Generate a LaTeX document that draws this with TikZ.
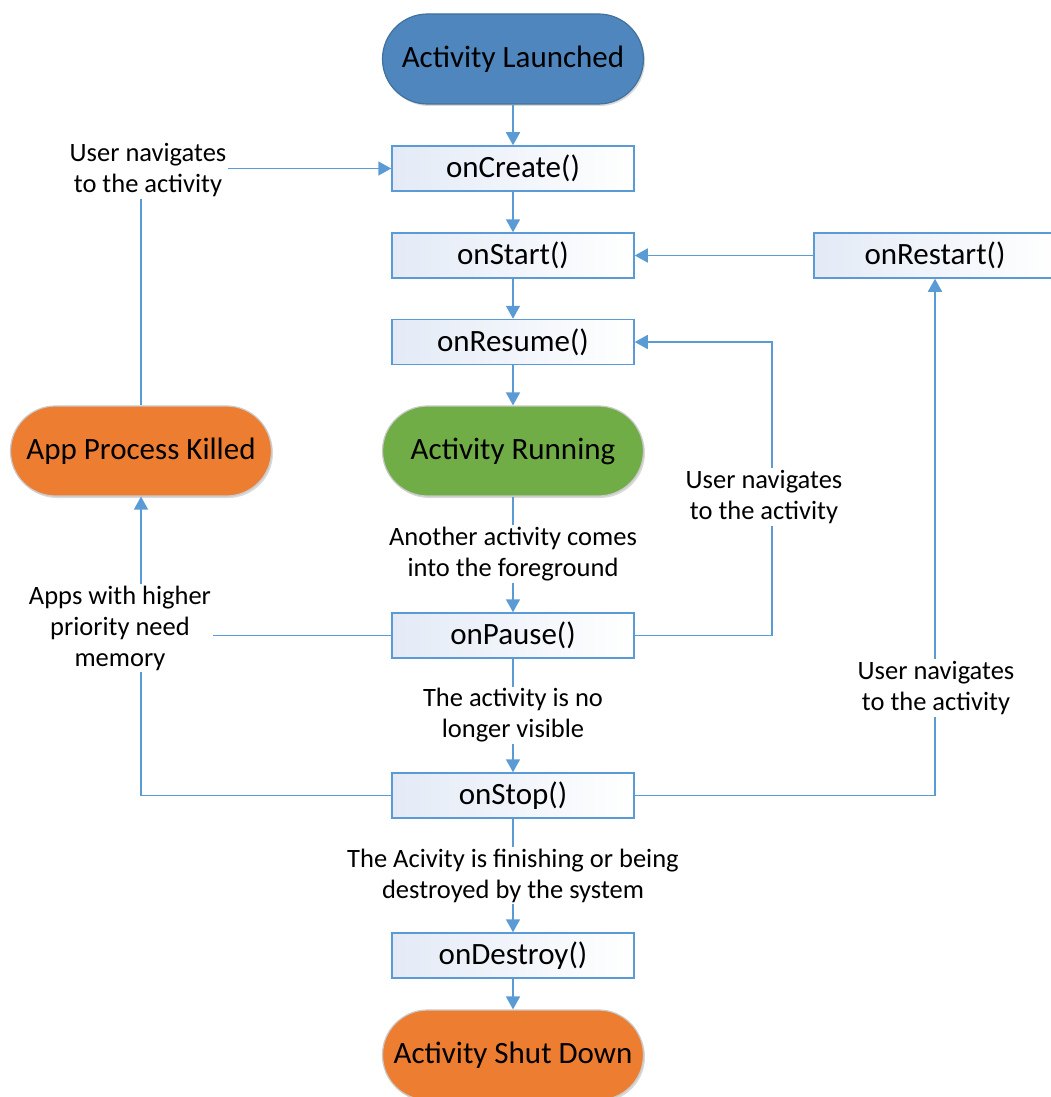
\documentclass[tikz,border=0pt]{standalone}
\usepackage{fontspec}
\setmainfont{Carlito}
\usetikzlibrary{arrows.meta,shadows}

\definecolor{lineblue}{HTML}{5B9BD5}
\definecolor{launchblue}{HTML}{4F86BE}
\definecolor{launchedge}{HTML}{41719C}
\definecolor{rungreen}{HTML}{70AD47}
\definecolor{stoporange}{HTML}{ED7D31}
\definecolor{paleblue}{HTML}{E3EAF6}
\definecolor{softedge}{HTML}{C9C9C9}

\begin{document}
\begin{tikzpicture}[x=1pt,y=-1pt,
  flow/.style={draw=lineblue, line width=1.6pt, -{Triangle[width=14pt,length=13pt]}},
  plain/.style={draw=lineblue, line width=1.6pt},
  method/.style={draw=lineblue, line width=1.5pt, left color=paleblue, right color=white,
    minimum width=242pt, minimum height=45pt, inner sep=0pt,
    font=\fontsize{31}{36}\selectfont},
  terminal/.style={rounded corners=45pt, minimum width=261pt, minimum height=90pt,
    inner sep=0pt, line width=1.2pt, font=\fontsize{31}{36}\selectfont,
    general shadow={fill=black, opacity=0.15, shadow xshift=1.5pt, shadow yshift=-2pt}},
  note/.style={fill=white, align=center, inner sep=2pt,
    font=\fontsize{26.5}{31}\selectfont}
]
\useasboundingbox (0,0) rectangle (1051,1097);

% lifecycle states
\node[terminal, fill=launchblue, draw=launchedge] (launch) at (513,59) {Activity Launched};
\node[method] (create)  at (513,168.5) {onCreate()};
\node[method] (start)   at (513,255.5) {onStart()};
\node[method] (resume)  at (513,342)   {onResume()};
\node[terminal, fill=rungreen, draw=softedge] (running) at (513,451) {Activity Running};
\node[method] (pause)   at (513,635.5) {onPause()};
\node[method] (stop)    at (513,795.5) {onStop()};
\node[method] (destroy) at (513,955.5) {onDestroy()};
\node[terminal, fill=stoporange, draw=softedge] (shutdown) at (513,1055) {Activity Shut Down};
\node[method] (restart) at (935,255.5) {onRestart()};
\node[terminal, fill=stoporange, draw=softedge] (killed) at (141,451) {App Process Killed};

% main sequence
\draw[flow] (launch) -- (create);
\draw[flow] (create) -- (start);
\draw[flow] (start) -- (resume);
\draw[flow] (resume) -- (running);
\draw[flow] (running) -- node[note] {Another activity comes\\into the foreground} (pause);
\draw[flow] (pause) -- node[note] {The activity is no\\longer visible} (stop);
\draw[flow] (stop) -- node[note] {The Acivity is finishing or being\\destroyed by the system} (destroy);
\draw[flow] (destroy) -- (shutdown);
\draw[flow] (restart) -- (start);

% return paths
\coordinate (resumecorner) at (772,635.5);
\draw[flow] (pause.east) -- (resumecorner) |- (resume.east);
\draw[flow] (stop.east) -| (restart.south);
\draw[flow] (killed.north) |- (create.west);
\draw[flow] (stop.west) -| (killed.south);

% path labels
\node[note] (navresume)  at (764,497) {User navigates\\to the activity};
\node[note] (navrestart) at (936,688) {User navigates\\to the activity};
\node[note] (navcreate)  at (148,170) {User navigates\\to the activity};
\node[note] (memory)     at (120,628) {Apps with higher\\priority need\\memory};
\draw[plain] (pause.west) -- (pause.west -| memory.east);
\end{tikzpicture}
\end{document}
